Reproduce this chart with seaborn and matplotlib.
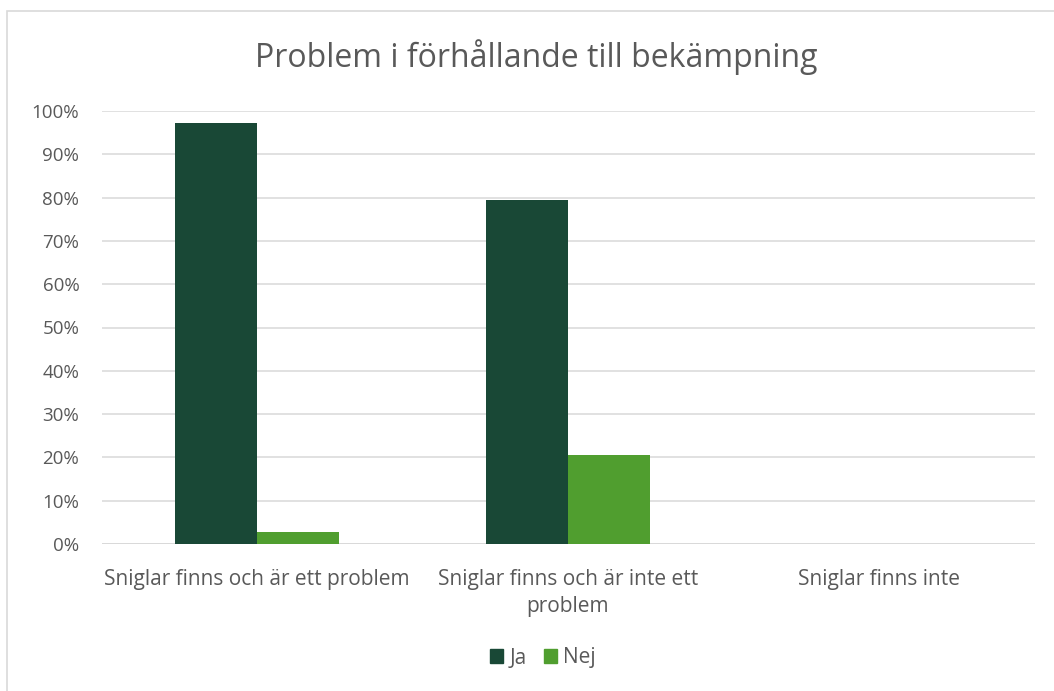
import matplotlib
matplotlib.use("Agg")
import matplotlib.pyplot as plt
import matplotlib.patches as mpatches
import seaborn as sns
import pandas as pd
from matplotlib.ticker import PercentFormatter

categories = ["Sniglar finns och är ett problem",
              "Sniglar finns och är inte ett\nproblem",
              "Sniglar finns inte"]
series = ["Ja", "Nej"]
ja_values = [0.973, 0.795, 0.0]
nej_values = [0.027, 0.205, 0.0]
colors = ["#194836", "#509E2F"]
title = "Problem i förhållande till bekämpning"

rows = []
for c, j, n in zip(categories, ja_values, nej_values):
    rows.append({"cat": c, "serie": "Ja", "val": j})
    rows.append({"cat": c, "serie": "Nej", "val": n})
df = pd.DataFrame(rows)

sns.set_theme(style="white")
plt.rcParams["font.family"] = ["Open Sans", "DejaVu Sans"]

fig = plt.figure(figsize=(10.54, 6.91), dpi=100)
fig.patch.set_facecolor("white")
# outer border (extends past right/bottom edge)
fig.patches.append(mpatches.Rectangle((7/1054, -0.1), 1.2, (691-11)/691 + 0.1,
                                      transform=fig.transFigure, fill=False,
                                      edgecolor="#D9D9D9", linewidth=1.2))

ax = fig.add_axes([101.5/1054, (691-544)/691, 933/1054, 433/691])
sns.barplot(data=df, x="cat", y="val", hue="serie", order=categories,
            hue_order=series, palette=colors, width=0.53, gap=0,
            saturation=1, ax=ax, legend=False, errorbar=None, linewidth=0)
ax.set_xlim(-0.5, 2.5)
ax.set_ylim(0, 1.0)
ax.set_yticks([i / 10 for i in range(11)])
ax.yaxis.set_major_formatter(PercentFormatter(1.0, decimals=0))
ax.grid(axis="y", color="#D9D9D9", linewidth=1.1)
ax.set_axisbelow(True)
for s in ax.spines.values():
    s.set_visible(False)
ax.axhline(0, color="#D9D9D9", linewidth=1.3, zorder=0.5)
ax.set_xlabel("")
ax.set_ylabel("")
ax.tick_params(axis="y", length=0, pad=16, labelsize=13.5, labelcolor="#595959")
ax.tick_params(axis="x", length=0, pad=18, labelsize=15, labelcolor="#595959")
for t in ax.get_yticklabels():
    t.set_horizontalalignment("right")
for t in ax.get_xticklabels():
    t.set_linespacing(1.4)

fig.text(536/1054, 1 - 57/691, title, ha="center", va="center",
         fontsize=23, color="#595959")

handles = [mpatches.Patch(color=c, label=s) for c, s in zip(colors, series)]
fig.legend(handles=handles, loc="center", bbox_to_anchor=(543/1054, 1 - 658/691),
           ncol=2, frameon=False, fontsize=15, labelcolor="#595959",
           handlelength=0.65, handleheight=0.65, handletextpad=0.3,
           columnspacing=0.8)

fig.savefig("out.png", dpi=100, facecolor="white")
